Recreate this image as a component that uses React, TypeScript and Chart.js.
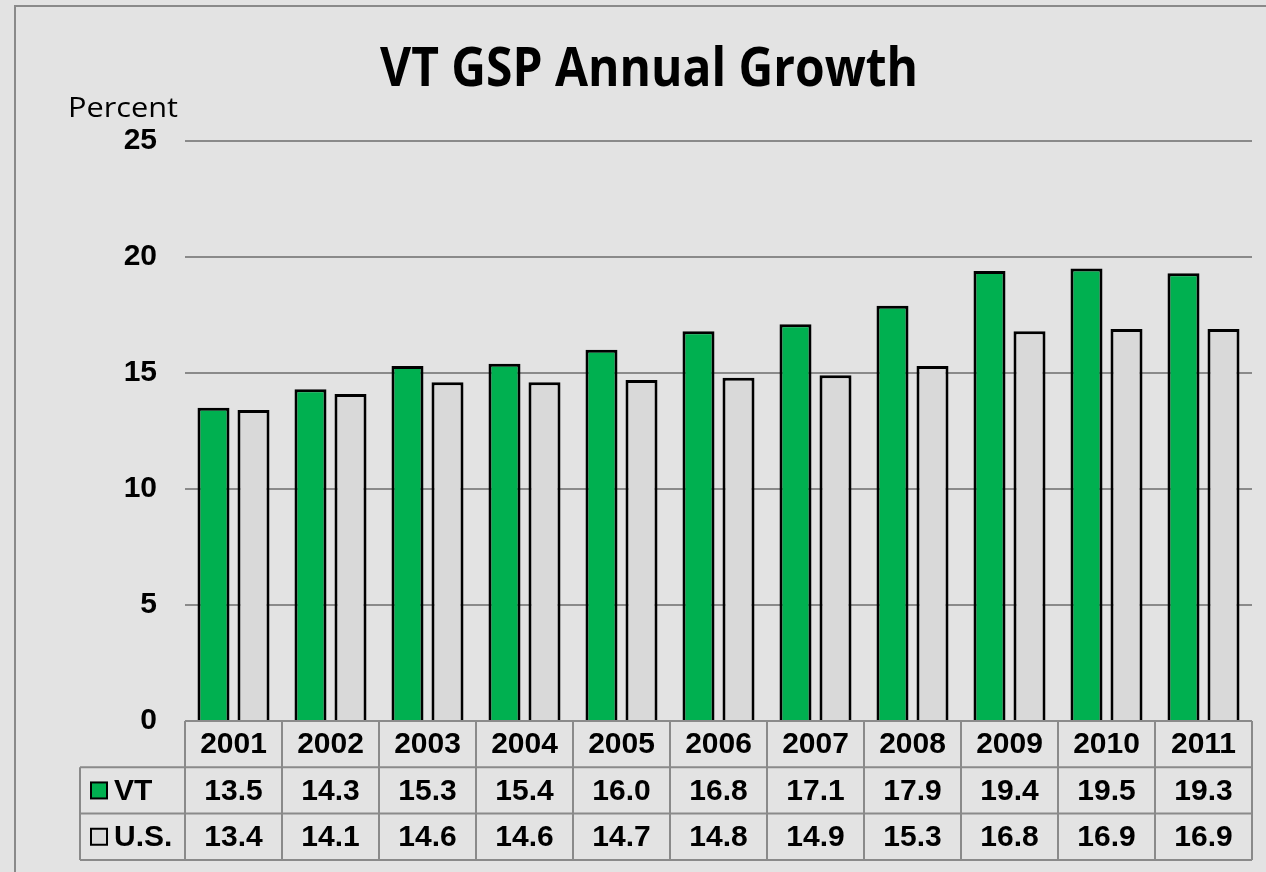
import React, { useEffect, useRef } from "react";
import { Chart, registerables } from "chart.js";

Chart.register(...registerables);

const years = ["2001", "2002", "2003", "2004", "2005", "2006", "2007", "2008", "2009", "2010", "2011"];
const vtValues = [13.5, 14.3, 15.3, 15.4, 16.0, 16.8, 17.1, 17.9, 19.4, 19.5, 19.3];
const usValues = [13.4, 14.1, 14.6, 14.6, 14.7, 14.8, 14.9, 15.3, 16.8, 16.9, 16.9];
const seriesNames = ["VT", "U.S."];
const titleText = "VT GSP Annual Growth";
const axisUnit = "Percent";

const GREEN = "#00b050";
const GREY = "#d9d9d9";
const LINE = "#8a8a8a";
const BG = "#e3e3e3";

const decorPlugin = {
  id: "decor",
  beforeDraw(chart: any) {
    const ctx = chart.ctx;
    ctx.save();
    ctx.fillStyle = BG;
    ctx.fillRect(0, 0, chart.width, chart.height);
    ctx.strokeStyle = LINE;
    ctx.lineWidth = 2;
    ctx.beginPath();
    ctx.moveTo(15, chart.height);
    ctx.lineTo(15, 6);
    ctx.lineTo(chart.width, 6);
    ctx.stroke();
    ctx.restore();
  },
  afterDraw(chart: any) {
    const ctx = chart.ctx;
    const xs = chart.scales.x;
    const ys = chart.scales.y;
    ctx.save();

    // Title
    ctx.fillStyle = "#000";
    ctx.font = 'bold 54px "Open Sans"';
    ctx.textBaseline = "alphabetic";
    ctx.textAlign = "center";
    const tw = ctx.measureText(titleText).width;
    const sx = 538 / tw;
    ctx.save();
    ctx.translate(649, 86);
    ctx.scale(sx, 1);
    ctx.fillText(titleText, 0, 0);
    ctx.restore();

    // Unit label
    ctx.font = '28px "Open Sans"';
    ctx.textAlign = "right";
    const pw = ctx.measureText(axisUnit).width;
    ctx.save();
    ctx.translate(178, 117);
    ctx.scale(110 / pw, 1);
    ctx.fillText(axisUnit, 0, 0);
    ctx.restore();

    // Data table
    const top = ys.getPixelForValue(0);
    const rowH = 46.3;
    const colW = xs.getPixelForValue(1) - xs.getPixelForValue(0);
    const left = xs.getPixelForValue(0) - colW / 2;
    const right = left + colW * years.length;
    const labelLeft = 80;

    ctx.strokeStyle = LINE;
    ctx.lineWidth = 2;
    ctx.beginPath();
    ctx.moveTo(left, top);
    ctx.lineTo(right, top);
    for (let r = 1; r <= 3; r++) {
      ctx.moveTo(labelLeft, top + r * rowH);
      ctx.lineTo(right, top + r * rowH);
    }
    ctx.moveTo(labelLeft, top + rowH);
    ctx.lineTo(labelLeft, top + 3 * rowH);
    for (let i = 0; i <= years.length; i++) {
      const x = left + i * colW;
      ctx.moveTo(x, top);
      ctx.lineTo(x, top + 3 * rowH);
    }
    ctx.stroke();

    ctx.fillStyle = "#000";
    ctx.font = 'bold 30px "Liberation Sans"';
    ctx.textAlign = "center";
    ctx.textBaseline = "middle";
    const rows = [years, vtValues.map((v) => v.toFixed(1)), usValues.map((v) => v.toFixed(1))];
    rows.forEach((row, r) => {
      row.forEach((txt, i) => {
        const cx = xs.getPixelForValue(i);
        ctx.fillText(txt, cx, top + r * rowH + rowH / 2 + 1);
      });
    });

    // Legend keys in table
    const keyColors = [GREEN, GREY];
    seriesNames.forEach((name, k) => {
      const cy = top + (k + 1) * rowH + rowH / 2;
      ctx.fillStyle = keyColors[k];
      ctx.fillRect(91, cy - 8, 16, 16);
      ctx.strokeStyle = "#000";
      ctx.lineWidth = 2;
      ctx.strokeRect(91, cy - 8, 16, 16);
      ctx.fillStyle = "#000";
      ctx.textAlign = "left";
      ctx.fillText(name, 114, cy + 1);
    });

    ctx.restore();
  },
};

export default function App() {
  const ref = useRef<HTMLCanvasElement>(null);
  useEffect(() => {
    if (!ref.current) return;
    const chart = new Chart(ref.current, {
      type: "bar",
      data: {
        labels: years,
        datasets: [
          {
            label: seriesNames[0],
            data: vtValues,
            backgroundColor: GREEN,
            borderColor: "#000",
            borderWidth: 3,
            categoryPercentage: 0.825,
            barPercentage: 0.8,
          },
          {
            label: seriesNames[1],
            data: usValues,
            backgroundColor: GREY,
            borderColor: "#000",
            borderWidth: 3,
            categoryPercentage: 0.825,
            barPercentage: 0.8,
          },
        ],
      },
      options: {
        animation: false,
        responsive: false,
        maintainAspectRatio: false,
        layout: { padding: { left: 0, top: 141, right: 14, bottom: 151 } },
        plugins: {
          legend: { display: false },
          tooltip: { enabled: false },
          title: { display: false },
        },
        scales: {
          x: { display: false },
          y: {
            min: 0,
            max: 25,
            ticks: {
              stepSize: 5,
              color: "#000",
              padding: 28,
              font: { family: "Liberation Sans", size: 30, weight: "bold" },
            },
            grid: { color: LINE, lineWidth: 2, drawTicks: false },
            border: { display: false },
            afterFit: (scale: any) => {
              scale.width = 185;
            },
          },
        },
      },
      plugins: [decorPlugin],
    });
    return () => chart.destroy();
  }, []);
  return (
    <div style={{ position: "fixed", left: 0, top: 0, width: 1266, height: 872, background: BG }}>
      <canvas ref={ref} width={1266} height={872} style={{ display: "block" }} />
    </div>
  );
}
